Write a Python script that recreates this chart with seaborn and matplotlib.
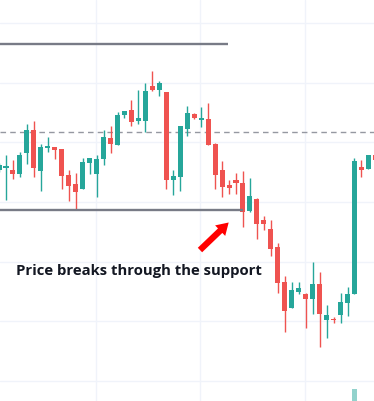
import numpy as np
import pandas as pd
import matplotlib
matplotlib.use("Agg")
import matplotlib.pyplot as plt
import seaborn as sns

sns.set_theme(style="white")
plt.rcParams['font.family'] = ['Open Sans', 'DejaVu Sans']

############### Dados #######################################
opens  = [135.34, 135.68, 135.34, 134.67, 138.19, 142.04, 135.18, 139.03, 139.20, 138.86,
          134.51, 133.00, 132.16, 136.52, 134.67, 137.19, 140.70, 139.53, 144.56, 145.39,
          143.55, 143.55, 149.41, 148.74, 148.41, 133.67, 134.17, 142.21, 144.72, 143.72,
          143.88, 139.70, 135.34, 132.83, 133.67, 133.17, 128.48, 130.49, 126.97, 125.46,
          122.45, 116.58, 112.23, 114.91, 114.57, 113.74, 116.25, 110.22, 110.39, 111.06,
          113.07, 114.57, 135.85, 135.51, 137.86]
highs  = [136.52, 137.86, 137.02, 138.36, 143.05, 143.55, 139.70, 140.87, 139.20, 138.86,
          135.34, 134.84, 137.35, 137.35, 137.86, 142.04, 142.71, 145.06, 145.23, 147.07,
          148.74, 149.92, 151.93, 150.25, 148.41, 135.34, 142.71, 146.06, 144.89, 145.89,
          146.57, 139.87, 136.85, 133.67, 134.84, 135.18, 134.00, 130.65, 127.64, 126.97,
          123.12, 117.59, 116.58, 116.58, 114.74, 119.93, 118.26, 112.73, 110.72, 114.74,
          115.75, 137.35, 137.02, 137.86, 137.86]
lows   = [135.01, 130.32, 133.84, 134.17, 136.35, 134.17, 131.83, 138.36, 137.19, 132.16,
          130.15, 128.81, 132.16, 134.67, 130.82, 136.18, 138.19, 139.53, 144.05, 142.71,
          143.05, 141.71, 148.58, 147.74, 132.16, 131.16, 131.83, 141.04, 143.90, 142.55,
          139.53, 132.16, 130.82, 131.32, 131.32, 125.80, 128.31, 123.79, 125.29, 120.94,
          114.74, 108.21, 112.23, 114.57, 108.88, 111.22, 105.70, 107.20, 109.72, 109.72,
          110.89, 114.57, 134.17, 135.51, 135.68]
closes = [136.18, 136.01, 134.67, 137.86, 142.04, 135.68, 139.20, 139.36, 138.69, 134.34,
          132.66, 131.66, 136.68, 137.35, 137.19, 140.87, 139.70, 144.56, 145.23, 143.38,
          144.05, 148.58, 148.74, 149.92, 133.67, 134.34, 142.71, 144.89, 144.05, 144.05,
          139.53, 134.51, 132.50, 132.33, 133.17, 128.31, 130.99, 126.30, 126.30, 122.11,
          116.42, 111.73, 115.24, 115.58, 113.74, 116.25, 111.22, 111.06, 110.22, 113.23,
          114.57, 136.85, 135.34, 137.86, 137.02]

spike_volume = 12.0   # unica barra de volume visivel (candle 51)
spike_index  = 51

resistance   = 156.45
support      = 128.64
dashed_level = 141.71
resistance_end = 32.85
support_end    = 35.0

label_text = "Price breaks through the support"

############### Preparando dataset ####################
df = pd.DataFrame({"open": opens, "high": highs, "low": lows, "close": closes})
df["idx"] = np.arange(len(df))
df["up"] = df["close"] >= df["open"]

UP = "#26a69a"
DOWN = "#ef5350"
colors = np.where(df["up"], UP, DOWN)

############### Figura ####################
fig = plt.figure(figsize=(3.74, 4.01), dpi=100)
ax = fig.add_axes([0, 0, 1, 1])

x_lo, x_hi = 0.139, 53.80
y_lo, y_hi = 96.65, 163.82

# volume (eixo gemeo atras dos candles)
axv = ax.twinx()
axv.bar([spike_index], [spike_volume], width=0.85, color=UP, alpha=0.5, linewidth=0)
axv.set_ylim(0, spike_volume * 401 / 12)
axv.set_axis_off()
ax.set_zorder(axv.get_zorder() + 1)
ax.patch.set_visible(False)

# grade
for yv in range(100, 170, 10):
    ax.axhline(yv, color="#f0f3fa", lw=1.0, zorder=0)
for xv in [13.9, 28.9, 43.9]:
    ax.axvline(xv, color="#f0f3fa", lw=1.0, zorder=0)

# candles
ax.vlines(df["idx"], df["low"], df["high"], colors=colors, lw=1.0, zorder=3)
body = (df["close"] - df["open"]).abs().clip(lower=0.2)
bottom = df[["open", "close"]].min(axis=1)
ax.bar(df["idx"], body, bottom=bottom, width=0.72, color=colors, linewidth=0, zorder=4)

# niveis
ax.plot([x_lo, resistance_end], [resistance, resistance], color="#787b86", lw=1.7, zorder=5,
        solid_capstyle="butt")
ax.plot([x_lo, support_end], [support, support], color="#787b86", lw=1.7, zorder=5,
        solid_capstyle="butt")
ax.axhline(dashed_level, color="#9598a1", lw=1.0, ls=(0, (4, 3)), zorder=2)

# anotacao
ax.annotate("", xy=(32.95, 126.55), xytext=(28.83, 121.94),
            arrowprops=dict(arrowstyle="simple,head_width=1.05,head_length=0.85,tail_width=0.45",
                            color="#ff0000", lw=0, mutation_scale=10, shrinkA=0, shrinkB=0),
            zorder=6)
ax.text(2.45, 118.43, label_text, fontsize=10.75, fontweight="bold", color="#131722",
        ha="left", va="center", zorder=6)

ax.set_xlim(x_lo, x_hi)
ax.set_ylim(y_lo, y_hi)
ax.set_axis_off()

plt.savefig("out.png", dpi=100)
plt.close()
